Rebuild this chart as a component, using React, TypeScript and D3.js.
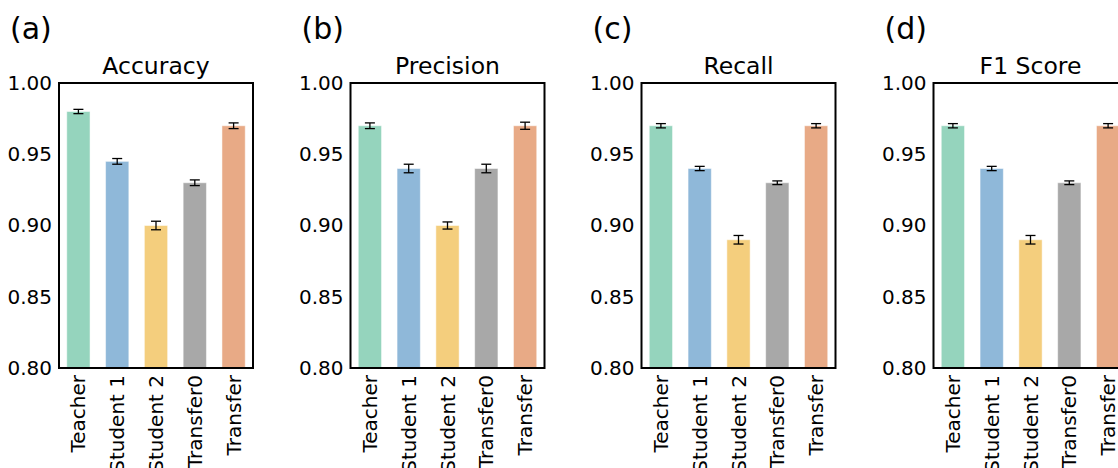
import React, { useEffect, useRef } from "react";
import * as d3 from "d3";

const categories = ["Teacher", "Student 1", "Student 2", "Transfer0", "Transfer"];
const colors = ["#95d4bd", "#8fb8d9", "#f4ce7d", "#a8a8a8", "#e8aa86"];
const panelLabels = ["(a)", "(b)", "(c)", "(d)"];
const titles = ["Accuracy", "Precision", "Recall", "F1 Score"];
const accuracy = [0.98, 0.945, 0.9, 0.93, 0.97];
const accuracyErr = [0.0015, 0.002, 0.003, 0.002, 0.002];
const precision = [0.97, 0.94, 0.9, 0.94, 0.97];
const precisionErr = [0.002, 0.003, 0.0025, 0.003, 0.0025];
const recall = [0.97, 0.94, 0.89, 0.93, 0.97];
const recallErr = [0.0015, 0.0015, 0.003, 0.0013, 0.0015];
const f1 = [0.97, 0.94, 0.89, 0.93, 0.97];
const f1Err = [0.0015, 0.0015, 0.003, 0.0013, 0.0015];
const yTicks = [0.8, 0.85, 0.9, 0.95, 1.0];

const series = [
  { values: accuracy, errs: accuracyErr },
  { values: precision, errs: precisionErr },
  { values: recall, errs: recallErr },
  { values: f1, errs: f1Err },
];

const W = 1118;
const H = 468;
const FONT = "DejaVu Sans, sans-serif";

export default function App() {
  const ref = useRef<SVGSVGElement>(null);
  useEffect(() => {
    const svg = d3.select(ref.current);
    svg.selectAll("*").remove();
    const top = 83;
    const bottom = 368;
    const pw = 194;
    const lefts = [59, 350.5, 641.5, 933.5];
    const y = d3.scaleLinear().domain([0.8, 1.0]).range([bottom, top]);

    series.forEach((s, i) => {
      const left = lefts[i];
      const x = d3
        .scaleBand<string>()
        .domain(categories)
        .range([left, left + pw])
        .paddingInner(0.4)
        .paddingOuter(0.2);
      const g = svg.append("g");

      g.selectAll("rect.bar")
        .data(s.values)
        .enter()
        .append("rect")
        .attr("class", "bar")
        .attr("x", (_, j) => x(categories[j])!)
        .attr("width", x.bandwidth())
        .attr("y", (d) => y(d))
        .attr("height", (d) => y(0.8) - y(d))
        .attr("fill", (_, j) => colors[j])
        .attr("stroke", "#ffffff")
        .attr("stroke-opacity", 0.5)
        .attr("stroke-width", 1);

      // error bars
      const eb = g
        .selectAll("g.err")
        .data(s.values)
        .enter()
        .append("g")
        .attr("class", "err");
      eb.append("line")
        .attr("x1", (_, j) => x(categories[j])! + x.bandwidth() / 2)
        .attr("x2", (_, j) => x(categories[j])! + x.bandwidth() / 2)
        .attr("y1", (d, j) => y(d - s.errs[j]))
        .attr("y2", (d, j) => y(d + s.errs[j]))
        .attr("stroke", "#000")
        .attr("stroke-width", 1.3);
      [-1, 1].forEach((sgn) => {
        eb.append("line")
          .attr("x1", (_, j) => x(categories[j])! + x.bandwidth() / 2 - 5)
          .attr("x2", (_, j) => x(categories[j])! + x.bandwidth() / 2 + 5)
          .attr("y1", (d, j) => y(d + sgn * s.errs[j]))
          .attr("y2", (d, j) => y(d + sgn * s.errs[j]))
          .attr("stroke", "#000")
          .attr("stroke-width", 1.3);
      });

      // y axis
      const ya = d3
        .axisLeft(y)
        .tickValues(yTicks)
        .tickSize(0)
        .tickPadding(7)
        .tickFormat(d3.format(".2f"));
      const yg = g.append("g").attr("transform", `translate(${left},0)`).call(ya);
      yg.select(".domain").remove();
      yg.selectAll("text")
        .attr("font-family", FONT)
        .attr("font-size", 20)
        .attr("fill", "#000");

      // x axis
      const xa = d3.axisBottom(x).tickSize(0).tickPadding(0);
      const xg = g.append("g").attr("transform", `translate(0,${bottom})`).call(xa);
      xg.select(".domain").remove();
      xg.selectAll("text")
        .attr("font-family", FONT)
        .attr("font-size", 20)
        .attr("fill", "#000")
        .attr("text-anchor", "end")
        .attr("transform", "rotate(-90)")
        .attr("x", -7)
        .attr("y", 0)
        .attr("dy", "0.35em")
        .attr("dx", 0);

      // frame
      g.append("rect")
        .attr("x", left)
        .attr("y", top)
        .attr("width", pw)
        .attr("height", bottom - top)
        .attr("fill", "none")
        .attr("stroke", "#000")
        .attr("stroke-width", 2);

      // title
      g.append("text")
        .attr("x", left + pw / 2)
        .attr("y", top - 9)
        .attr("text-anchor", "middle")
        .attr("font-family", FONT)
        .attr("font-size", 23.5)
        .text(titles[i]);

      // panel label
      g.append("text")
        .attr("x", left - 49)
        .attr("y", 39)
        .attr("font-family", FONT)
        .attr("font-size", 30)
        .text(panelLabels[i]);
    });
  }, []);

  return (
    <svg
      ref={ref}
      width={W}
      height={H}
      style={{ position: "absolute", left: 0, top: 0, background: "#fff" }}
    />
  );
}
